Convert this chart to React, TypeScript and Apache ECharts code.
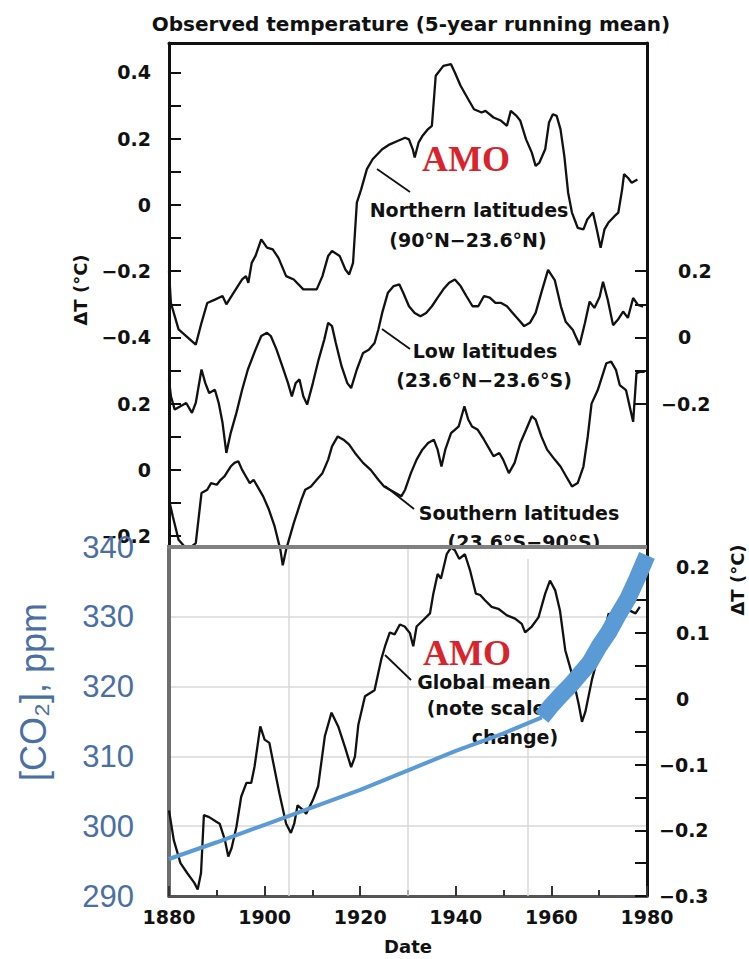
import React, { useEffect, useRef } from 'react';
import * as echarts from 'echarts';

// ---------- data (year, ΔT °C) ----------
const northern: [number, number][] = [
  [1880.0, -0.2], [1880.4, -0.296], [1882.0, -0.376], [1883.6, -0.396], [1885.6, -0.422], [1886.8, -0.356],
  [1888.0, -0.296], [1889.6, -0.286], [1891.2, -0.275], [1892.0, -0.3], [1893.3, -0.27], [1895.3, -0.225],
  [1896.1, -0.215], [1896.6, -0.235], [1897.3, -0.175], [1898.1, -0.154], [1899.3, -0.104], [1900.5, -0.129],
  [1901.7, -0.134], [1902.9, -0.16], [1904.5, -0.215], [1906.1, -0.225], [1908.1, -0.255], [1910.9, -0.255],
  [1912.1, -0.215], [1913.3, -0.154], [1914.1, -0.139], [1915.7, -0.154], [1916.9, -0.195], [1917.7, -0.21],
  [1918.5, -0.175], [1919.3, 0.007], [1920.2, 0.047], [1921.4, 0.108], [1922.6, 0.138], [1924.6, 0.168],
  [1926.2, 0.183], [1927.8, 0.193], [1929.4, 0.203], [1930.2, 0.198], [1931.0, 0.168], [1931.4, 0.143],
  [1932.2, 0.188], [1933.0, 0.208], [1934.2, 0.229], [1935.0, 0.239], [1935.8, 0.39], [1937.4, 0.42],
  [1939.0, 0.425], [1939.8, 0.4], [1941.0, 0.36], [1942.6, 0.319], [1943.8, 0.289], [1945.4, 0.279],
  [1946.2, 0.284], [1947.9, 0.264], [1949.5, 0.254], [1950.7, 0.239], [1951.5, 0.284], [1952.7, 0.269],
  [1953.5, 0.254], [1954.7, 0.198], [1955.9, 0.158], [1956.7, 0.118], [1957.5, 0.128], [1958.7, 0.168],
  [1959.5, 0.249], [1960.3, 0.274], [1961.1, 0.269], [1961.9, 0.229], [1962.7, 0.148], [1963.5, 0.037],
  [1964.3, -0.023], [1965.5, -0.069], [1966.7, -0.074], [1967.5, -0.044], [1968.7, -0.023], [1969.5, -0.074],
  [1970.3, -0.129], [1971.1, -0.074], [1971.9, -0.054], [1973.2, -0.034], [1974.0, -0.023], [1974.8, 0.047],
  [1975.2, 0.093], [1976.0, 0.082], [1976.8, 0.067], [1978.0, 0.077],
];

const lowLat: [number, number][] = [
  [1880.0, -0.127], [1880.4, -0.178], [1881.2, -0.218], [1882.4, -0.208], [1883.6, -0.198], [1884.8, -0.228],
  [1885.6, -0.198], [1886.8, -0.097], [1887.6, -0.138], [1888.4, -0.168], [1889.6, -0.158], [1890.4, -0.198],
  [1891.2, -0.258], [1892.0, -0.349], [1892.9, -0.289], [1894.1, -0.228], [1895.3, -0.158], [1896.5, -0.097],
  [1898.1, -0.037], [1899.3, 0.004], [1900.5, 0.014], [1901.3, 0.004], [1902.5, -0.037], [1903.7, -0.087],
  [1904.9, -0.138], [1905.7, -0.178], [1906.5, -0.138], [1907.3, -0.127], [1908.1, -0.178], [1908.9, -0.203],
  [1910.1, -0.138], [1911.3, -0.067], [1912.5, -0.006], [1913.3, 0.044], [1914.1, 0.034], [1914.9, -0.017],
  [1916.1, -0.087], [1917.3, -0.138], [1918.1, -0.153], [1919.3, -0.097], [1920.6, -0.047], [1921.8, -0.037],
  [1923.0, -0.017], [1923.8, 0.024], [1924.6, 0.074], [1925.8, 0.135], [1927.0, 0.155], [1928.2, 0.16],
  [1929.0, 0.135], [1930.2, 0.094], [1931.4, 0.074], [1932.6, 0.064], [1933.8, 0.074], [1935.0, 0.094],
  [1936.2, 0.12], [1937.4, 0.145], [1938.6, 0.165], [1939.8, 0.175], [1941.0, 0.155], [1942.2, 0.125],
  [1943.5, 0.094], [1944.7, 0.094], [1945.9, 0.125], [1947.1, 0.12], [1948.3, 0.104], [1949.5, 0.104],
  [1950.7, 0.094], [1951.9, 0.074], [1953.1, 0.054], [1954.3, 0.034], [1955.5, 0.044], [1956.7, 0.074],
  [1957.9, 0.135], [1959.3, 0.204], [1960.7, 0.173], [1962.0, 0.093], [1963.0, 0.047], [1964.5, 0.022],
  [1965.9, -0.023], [1967.0, 0.043], [1968.0, 0.108], [1969.0, 0.089], [1970.1, 0.123], [1970.8, 0.168],
  [1971.8, 0.113], [1972.9, 0.037], [1973.9, 0.053], [1975.0, 0.078], [1976.0, 0.059], [1977.1, 0.119],
  [1978.1, 0.098], [1979.2, 0.093],
];

const southern: [number, number][] = [
  [1880.0, -0.09], [1880.8, -0.141], [1882.0, -0.211], [1883.2, -0.231], [1884.4, -0.236], [1885.6, -0.221],
  [1886.8, -0.07], [1888.0, -0.06], [1888.8, -0.04], [1890.0, -0.045], [1890.8, -0.03], [1891.6, -0.02],
  [1892.9, 0.01], [1893.7, 0.021], [1894.5, 0.026], [1895.3, 0.0], [1896.1, -0.02], [1896.9, -0.04],
  [1897.7, -0.03], [1898.5, -0.05], [1899.7, -0.08], [1900.9, -0.12], [1902.1, -0.171], [1903.3, -0.241],
  [1903.8, -0.288], [1904.5, -0.241], [1906.1, -0.161], [1907.7, -0.09], [1908.5, -0.06], [1909.7, -0.05],
  [1910.9, -0.03], [1912.1, -0.01], [1913.3, 0.031], [1914.1, 0.071], [1915.3, 0.101], [1916.5, 0.091],
  [1917.7, 0.076], [1918.9, 0.051], [1920.6, 0.021], [1922.2, 0.0], [1923.8, -0.03], [1925.0, -0.05],
  [1926.2, -0.06], [1927.4, -0.07], [1928.6, -0.08], [1929.4, -0.06], [1930.6, -0.01], [1931.8, 0.031],
  [1933.0, 0.061], [1934.2, 0.081], [1935.4, 0.091], [1936.2, 0.061], [1937.0, 0.01], [1937.8, 0.061],
  [1939.0, 0.111], [1939.8, 0.121], [1940.6, 0.131], [1941.8, 0.192], [1942.6, 0.152], [1943.4, 0.131],
  [1944.6, 0.121], [1945.9, 0.091], [1947.1, 0.061], [1947.9, 0.041], [1949.1, 0.051], [1949.9, 0.031],
  [1951.1, -0.01], [1952.3, 0.021], [1953.5, 0.081], [1954.7, 0.121], [1955.9, 0.162], [1956.7, 0.152],
  [1957.9, 0.101], [1959.1, 0.061], [1960.7, 0.031], [1961.9, 0.01], [1963.1, -0.02], [1964.3, -0.05],
  [1965.5, -0.04], [1966.7, 0.01], [1967.6, 0.1], [1968.4, 0.2], [1969.7, 0.241], [1971.5, 0.322],
  [1972.5, 0.327], [1973.5, 0.302], [1974.3, 0.256], [1975.6, 0.241], [1977.1, 0.145], [1977.8, 0.292],
  [1978.5, 0.296], [1979.5, 0.296],
];

const globalMean: [number, number][] = [
  [1880.0, -0.17], [1881.0, -0.215], [1882.4, -0.25], [1883.8, -0.265], [1885.3, -0.28], [1886.0, -0.29],
  [1886.7, -0.265], [1887.3, -0.177], [1888.4, -0.18], [1889.9, -0.187], [1890.6, -0.19], [1891.7, -0.215],
  [1892.4, -0.24], [1893.1, -0.227], [1894.1, -0.195], [1895.1, -0.149], [1896.2, -0.128], [1897.2, -0.128],
  [1897.9, -0.103], [1899.1, -0.042], [1900.0, -0.062], [1901.0, -0.067], [1901.7, -0.093], [1903.1, -0.144],
  [1904.5, -0.19], [1905.5, -0.204], [1906.2, -0.19], [1906.9, -0.162], [1908.0, -0.169], [1908.7, -0.175],
  [1910.1, -0.154], [1911.2, -0.133], [1912.6, -0.057], [1914.0, -0.021], [1915.4, -0.042], [1916.8, -0.073],
  [1918.1, -0.104], [1918.9, -0.088], [1919.6, -0.04], [1921.0, 0.004], [1923.0, 0.013], [1924.4, 0.06],
  [1925.2, 0.08], [1926.2, 0.101], [1927.2, 0.098], [1928.3, 0.113], [1929.3, 0.11], [1930.4, 0.1],
  [1931.1, 0.08], [1931.8, 0.11], [1933.2, 0.12], [1934.6, 0.13], [1935.3, 0.16], [1936.2, 0.19],
  [1936.9, 0.183], [1938.1, 0.22], [1939.0, 0.23], [1939.8, 0.226], [1940.7, 0.213], [1941.9, 0.22],
  [1943.0, 0.195], [1944.2, 0.16], [1945.1, 0.158], [1946.1, 0.15], [1947.5, 0.14], [1948.9, 0.137],
  [1950.7, 0.127], [1952.4, 0.122], [1953.8, 0.114], [1954.5, 0.101], [1955.9, 0.11], [1957.3, 0.124],
  [1958.7, 0.16], [1959.7, 0.18], [1960.8, 0.165], [1961.8, 0.134], [1962.9, 0.074], [1964.3, 0.038],
  [1965.7, -0.008], [1966.4, -0.035], [1967.1, -0.02], [1968.5, 0.03], [1970.0, 0.07], [1971.0, 0.1],
  [1972.0, 0.13], [1973.4, 0.11], [1974.8, 0.125], [1976.2, 0.135], [1977.6, 0.13], [1978.5, 0.14],
];

// CO2 (ppm)
const co2Early: [number, number][] = [
  [1880, 295.3], [1890, 297.7], [1900, 300.2], [1910, 302.7], [1920, 305.2], [1930, 308.0],
  [1940, 310.8], [1950, 313.3], [1958, 315.6],
];
const co2MaunaLoa: [number, number][] = [
  [1958, 315.6], [1960, 317.3], [1962, 318.8], [1964, 320.2], [1966, 321.8], [1968, 323.4],
  [1970, 325.8], [1972, 327.8], [1974, 330.3], [1976, 332.6], [1978, 335.6], [1980, 338.8],
];

// stacking offsets for the upper panel
const LOW_OFFSET = -0.4;
const SOUTH_OFFSET = -0.8;

// tick / label positions (in stacked-panel units)
const topLeftTicks = [0.4, 0.3, 0.2, 0.1, 0, -0.1, -0.2, -0.3, -0.4, -0.5, -0.6, -0.7, -0.8, -0.9, -1.0];
const topLeftLabels = [0.4, 0.2, 0, -0.2, -0.4, -0.6, -0.8, -1.0];
const topRightTicks = [-0.2, -0.3, -0.4, -0.5, -0.6];
const topRightLabels = [-0.2, -0.4, -0.6];
const botRightTicks = [-0.3, -0.25, -0.2, -0.15, -0.1, -0.05, 0, 0.05, 0.1, 0.15, 0.2];
const botRightLabels = [-0.3, -0.2, -0.1, 0, 0.1, 0.2];
const co2GridYears = [1905, 1930, 1955];

const FONT = '"DejaVu Sans", sans-serif';
const BLUE = '#5b9bd5';
const BLUE_TEXT = '#4a6fa5';

function fmt(v: number): string {
  const r = Math.round(v * 10) / 10;
  if (Math.abs(r) < 1e-9) return '0';
  return r < 0 ? '\u2212' + Math.abs(r).toFixed(1) : r.toFixed(1);
}
function richFmt(v: number): string {
  const s = fmt(v);
  return s.startsWith('\u2212') ? `{n|${s}}` : `{p|${s}}`;
}
const baseLabel = { fontFamily: FONT, fontWeight: 'bold' as const, fontSize: 19, color: '#111' };
const richLabels = { p: { ...baseLabel, padding: [0, 0, 0, 17] }, n: { ...baseLabel } };

export default function App() {
  const ref = useRef<HTMLDivElement>(null);
  useEffect(() => {
    if (!ref.current) return;
    const chart = echarts.init(ref.current, undefined, { renderer: 'svg' });
    const line = (w = 2.3) => ({ color: '#111', width: w });
    const txt = (text: string, x: number, y: number, extra: any = {}) => ({
      type: 'text', x, y, z: 3, silent: true,
      style: { text, fill: '#111', font: `bold 19px ${FONT}`, align: 'center', verticalAlign: 'middle', ...extra },
    });
    const ldr = (x1: number, y1: number, x2: number, y2: number) => ({
      type: 'line', z: 3, silent: true, shape: { x1, y1, x2, y2 }, style: { stroke: '#111', lineWidth: 1.8 },
    });
    const option: any = {
      animation: false,
      backgroundColor: '#fff',
      grid: [
        { left: 169, top: 43, width: 478, height: 504 },
        { left: 169, top: 547, width: 478, height: 349 },
      ],
      xAxis: [
        {
          gridIndex: 0, type: 'value', min: 1880, max: 1980, position: 'top',
          axisLine: { onZero: false, lineStyle: { color: '#111', width: 3 } },
          axisTick: { show: false }, axisLabel: { show: false }, splitLine: { show: false },
        },
        {
          gridIndex: 1, type: 'value', min: 1880, max: 1980, interval: 20, position: 'bottom',
          axisLine: { onZero: false, lineStyle: { color: '#555', width: 3 } },
          axisTick: { inside: true, length: 10, lineStyle: { color: '#333', width: 2 } },
          minorTick: { show: true, splitNumber: 2, length: 6, lineStyle: { color: '#333', width: 2 } },
          axisLabel: { ...baseLabel, margin: 11, formatter: (v: number) => String(v) },
          splitLine: { show: false },
          name: 'Date', nameLocation: 'middle', nameGap: 41,
          nameTextStyle: { ...baseLabel, fontSize: 18 },
        },
      ],
      yAxis: [
        {
          gridIndex: 0, type: 'value', min: -1.033, max: 0.489, position: 'left',
          axisLine: { show: true, onZero: false, lineStyle: { color: '#111', width: 3 } },
          axisTick: { show: true, inside: true, length: 12, customValues: topLeftTicks, lineStyle: { color: '#111', width: 2 } },
          axisLabel: {
            ...baseLabel, margin: 18, customValues: topLeftLabels,
            formatter: (v: number) => fmt(v >= -0.45 ? v : v - SOUTH_OFFSET),
          },
          splitLine: { show: false },
        },
        {
          gridIndex: 0, type: 'value', min: -1.033, max: 0.489, position: 'right',
          axisLine: { show: true, onZero: false, lineStyle: { color: '#111', width: 3 } },
          axisTick: { show: true, inside: true, length: 12, customValues: topRightTicks, lineStyle: { color: '#111', width: 2 } },
          axisLabel: {
            ...baseLabel, margin: 14, customValues: topRightLabels,
            formatter: (v: number) => richFmt(v - LOW_OFFSET), rich: richLabels,
          },
          splitLine: { show: false },
        },
        {
          gridIndex: 1, type: 'value', min: 290, max: 340, interval: 10, position: 'left',
          axisLine: { show: true, onZero: false, lineStyle: { color: '#6e6e6e', width: 4 } },
          axisTick: { show: false },
          axisLabel: { fontFamily: '"Liberation Sans", Arial, sans-serif', fontSize: 31, color: BLUE_TEXT, margin: 35 },
          splitLine: { show: true, lineStyle: { color: '#d9d9d9', width: 1.5 } },
        },
        {
          gridIndex: 1, type: 'value', min: -0.3, max: 0.231, position: 'right',
          axisLine: { show: true, onZero: false, lineStyle: { color: '#111', width: 3 } },
          axisTick: { show: true, inside: true, length: 12, customValues: botRightTicks, lineStyle: { color: '#111', width: 2 } },
          axisLabel: {
            ...baseLabel, margin: 12, customValues: botRightLabels,
            formatter: (v: number) => richFmt(v), rich: richLabels,
          },
          splitLine: { show: false },
        },
      ],
      series: [
        {
          type: 'line', xAxisIndex: 0, yAxisIndex: 0, data: northern, showSymbol: false, silent: true,
          lineStyle: line(), z: 2,
        },
        {
          type: 'line', xAxisIndex: 0, yAxisIndex: 0, showSymbol: false, silent: true,
          data: lowLat.map(([y, t]) => [y, t + LOW_OFFSET]), lineStyle: line(), z: 2,
        },
        {
          type: 'line', xAxisIndex: 0, yAxisIndex: 0, showSymbol: false, silent: true, clip: false,
          data: southern.map(([y, t]) => [y, t + SOUTH_OFFSET]), lineStyle: line(), z: 2,
        },
        {
          type: 'line', xAxisIndex: 1, yAxisIndex: 3, data: globalMean, showSymbol: false, silent: true,
          lineStyle: line(), z: 5,
          markLine: {
            silent: true, symbol: 'none', label: { show: false },
            lineStyle: { color: '#d9d9d9', width: 1.5, type: 'solid' },
            data: co2GridYears.map((y) => ({ xAxis: y })),
            z: 1,
          },
        },
        {
          type: 'line', xAxisIndex: 1, yAxisIndex: 2, data: co2Early, showSymbol: false, silent: true,
          lineStyle: { color: BLUE, width: 4 }, z: 6,
        },
        {
          type: 'line', xAxisIndex: 1, yAxisIndex: 2, data: co2MaunaLoa, showSymbol: false, silent: true,
          lineStyle: { color: BLUE, width: 17, cap: 'butt', join: 'round' }, z: 6,
        },
      ],
      graphic: [
        txt('Observed temperature (5-year running mean)', 411, 24, { font: `bold 20px ${FONT}` }),
        { ...txt('\u0394T (\u00b0C)', 80, 290, { font: `bold 18px ${FONT}` }), rotation: Math.PI / 2 },
        { ...txt('\u0394T (\u00b0C)', 737, 580, { font: `bold 18px ${FONT}` }), rotation: Math.PI / 2 },
        {
          type: 'text', x: 33, y: 692, rotation: Math.PI / 2, silent: true, z: 3,
          style: {
            text: '[CO\u2082], ppm', fill: BLUE_TEXT, font: `36px "Liberation Sans", Arial, sans-serif`,
            align: 'center', verticalAlign: 'middle',
          },
        },
        txt('AMO', 466, 159, { fill: '#d9242b', font: `bold 36px "Liberation Serif", "Times New Roman", serif` }),
        txt('AMO', 467, 653, { fill: '#d9242b', font: `bold 36px "Liberation Serif", "Times New Roman", serif` }),
        txt('Northern latitudes', 469, 210),
        txt('(90\u00b0N\u221223.6\u00b0N)', 468, 240),
        txt('Low latitudes', 485, 351),
        txt('(23.6\u00b0N\u221223.6\u00b0S)', 484, 380),
        txt('Southern latitudes', 519, 513),
        txt('(23.6\u00b0S\u221290\u00b0S)', 524, 542),
        { type: 'rect', z: 4, silent: true, shape: { x: 430, y: 549, width: 190, height: 10 }, style: { fill: '#fff' } },
        txt('Global mean', 484, 682),
        txt('(note scale', 486, 708),
        txt('change)', 515, 737),
        ldr(377, 169, 410, 192),
        ldr(382, 329, 410, 349),
        ldr(385, 486, 414, 509),
        ldr(385, 655, 411, 680),
        {
          type: 'line', z: 7, silent: true, shape: { x1: 167, y1: 547, x2: 647, y2: 547 },
          style: { stroke: '#808080', lineWidth: 4 },
        },
      ],
    };
    chart.setOption(option);
    return () => chart.dispose();
  }, []);
  return <div ref={ref} style={{ position: 'absolute', left: 0, top: 0, width: 749, height: 959 }} />;
}
